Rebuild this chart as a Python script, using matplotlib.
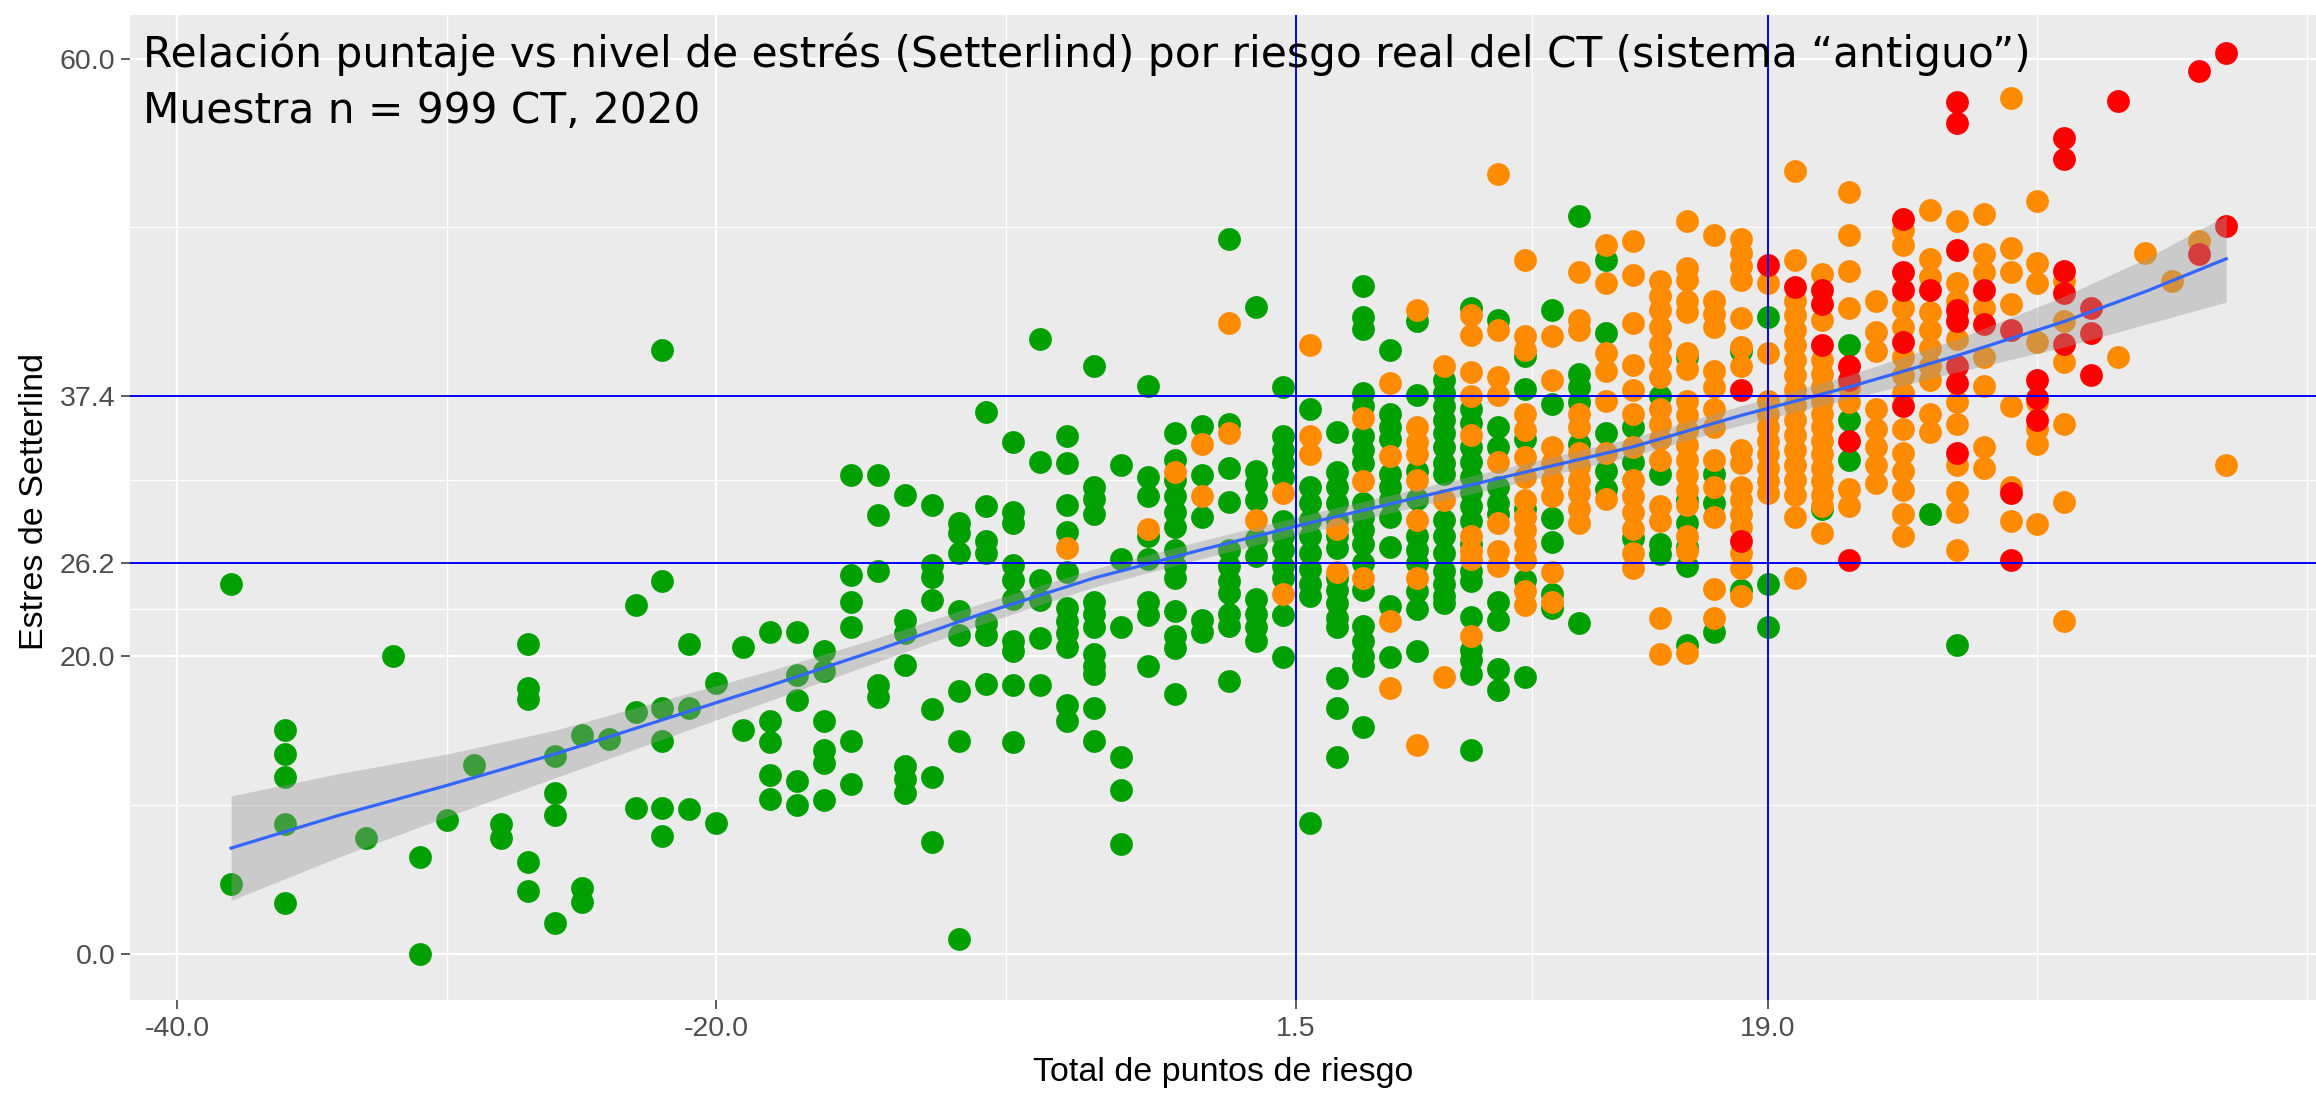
import matplotlib
matplotlib.use("Agg")
import matplotlib.pyplot as plt
import numpy as np

# puntos: (x, [valores y]) por color de riesgo
green_cols = [
    (-38, [24.8, 4.7]),
    (-36, [15.0, 13.4, 11.9, 8.7, 3.4]),
    (-33, [7.8]),
    (-32, [20.0]),
    (-31, [6.5, 0.0]),
    (-30, [9.0]),
    (-29, [12.7]),
    (-28, [8.7, 7.8]),
    (-27, [20.8, 17.8, 17.1, 6.2, 4.2]),
    (-26, [13.3, 10.8, 9.3, 2.1]),
    (-25, [14.7, 4.4, 3.5]),
    (-24, [14.4]),
    (-23, [23.4, 16.2, 9.8]),
    (-22, [40.5, 25.0, 16.5, 14.3, 9.8, 7.9]),
    (-21, [20.8, 16.5, 9.7]),
    (-20, [18.2, 8.8]),
    (-19, [20.6, 15.0]),
    (-18, [21.6, 15.6, 14.2, 12.0, 10.4]),
    (-17, [21.6, 18.7, 17.0, 11.6, 10.0]),
    (-16, [20.3, 19.0, 15.6, 13.7, 12.8, 10.3]),
    (-15, [32.1, 25.4, 23.6, 21.9, 14.3, 11.4]),
    (-14, [32.1, 29.4, 25.7, 18.0, 17.2]),
    (-13, [30.8, 22.4, 21.5, 19.4, 12.6, 11.7, 10.8]),
    (-12, [30.1, 26.1, 25.3, 23.7, 16.4, 11.9, 7.5]),
    (-11, [28.9, 28.2, 26.9, 23.0, 21.4, 17.6, 14.3, 1.0]),
    (-10, [36.3, 30.0, 27.7, 26.9, 22.2, 21.4, 18.1]),
    (-9, [34.3, 29.6, 28.9, 26.1, 25.1, 23.8, 21.0, 20.3, 18.0, 14.2]),
    (-8, [41.2, 33.0, 25.1, 23.7, 21.2, 18.0]),
    (-7, [34.7, 32.9, 30.1, 28.3, 25.6, 23.2, 22.3, 21.5, 20.6, 16.7, 15.6]),
    (-6, [39.4, 31.3, 30.5, 29.5, 23.6, 22.8, 21.9, 20.1, 19.3, 18.8, 16.5, 14.3]),
    (-5, [32.8, 26.5, 21.9, 13.2, 11.0, 7.4]),
    (-4, [38.1, 32.0, 30.7, 28.0, 26.5, 23.6, 22.7, 19.3]),
    (-3, [34.9, 33.1, 31.8, 30.7, 29.6, 28.6, 27.1, 26.0, 25.2, 23.0, 21.3, 20.5, 17.4]),
    (-2, [35.4, 32.1, 29.3, 22.4, 21.6]),
    (-1, [47.9, 35.5, 32.6, 30.3, 27.1, 26.0, 25.0, 24.2, 22.8, 22.0, 18.3]),
    (0, [43.4, 32.4, 31.5, 30.4, 27.8, 26.7, 23.8, 22.8, 21.9, 21.0]),
    (1, [38.0, 34.7, 33.8, 32.9, 32.0, 29.0, 28.0, 27.1, 26.0, 25.2, 22.7, 19.9]),
    (2, [36.5, 31.3, 30.2, 29.1, 28.0, 26.9, 25.8, 24.8, 24.0, 8.8]),
    (3, [35.0, 32.3, 31.3, 30.2, 29.1, 28.0, 27.2, 25.2, 24.4, 23.5, 22.5, 21.9, 18.5, 16.5, 13.2]),
    (4, [44.8, 42.7, 41.9, 37.6, 36.7, 34.7, 33.8, 32.9, 30.2, 29.3, 28.4, 27.5, 26.2, 24.4,
         22.0, 21.0, 20.0, 19.3, 15.2]),
    (5, [40.5, 36.2, 35.3, 34.5, 32.2, 31.3, 30.4, 29.3, 27.3, 23.3, 19.9]),
    (6, [42.4, 37.5, 32.4, 30.5, 28.0, 27.1, 26.2, 24.3, 23.1, 20.3]),
    (7, [38.5, 37.6, 36.7, 35.8, 34.9, 34.0, 32.9, 32.2, 29.1, 28.0, 26.9, 25.7, 24.8, 24.0, 23.5]),
    (8, [43.3, 36.5, 35.6, 34.0, 33.0, 32.0, 31.0, 30.0, 29.0, 27.5, 25.7, 25.0, 22.6, 20.4,
         19.7, 18.8, 13.7]),
    (9, [42.5, 35.3, 34.0, 31.3, 30.2, 29.5, 23.6, 22.4, 19.1, 17.7]),
    (10, [40.1, 37.9, 34.5, 29.8, 25.1, 18.6]),
    (11, [43.2, 36.9, 29.2, 27.6, 24.1, 23.2]),
    (12, [49.5, 38.9, 38.0, 37.0, 34.2, 22.2]),
    (13, [46.5, 41.6, 34.9, 32.4, 31.2]),
    (14, [35.3, 33.0, 27.9]),
    (15, [37.4, 32.2, 27.5, 26.8]),
    (16, [40.0, 30.4, 28.9, 27.3, 26.0, 20.7]),
    (17, [32.2, 30.2, 21.6]),
    (18, [40.4, 24.4]),
    (19, [42.7, 24.8, 21.9]),
    (21, [29.8]),
    (22, [40.8, 35.8, 33.1]),
    (25, [29.5]),
    (26, [20.7]),
]

orange_cols = [
    (-7, [27.2]),
    (-4, [28.5]),
    (-3, [32.3]),
    (-2, [34.2, 30.7]),
    (-1, [42.3, 34.9]),
    (0, [29.1]),
    (1, [30.9, 24.1]),
    (2, [40.8, 34.7, 33.5]),
    (3, [28.5, 25.6]),
    (4, [35.9, 31.7, 25.2]),
    (5, [38.3, 33.4, 22.3, 17.8]),
    (6, [43.2, 35.3, 34.3, 33.5, 31.8, 29.1, 25.2, 14.0]),
    (7, [39.4, 30.4, 18.6]),
    (8, [42.8, 41.5, 39.0, 37.4, 34.8, 28.0, 27.0, 26.5, 21.3]),
    (9, [52.3, 41.8, 38.7, 37.5, 33.0, 28.9, 27.0, 26.0]),
    (10, [46.5, 41.4, 40.5, 36.2, 35.1, 33.3, 32.0, 30.4, 29.3, 28.4, 27.4, 26.4, 24.3, 23.4]),
    (11, [41.4, 38.5, 34.0, 32.9, 31.8, 30.7, 25.6, 23.6]),
    (12, [45.7, 42.5, 41.8, 36.2, 35.3, 33.6, 32.7, 31.8, 30.9, 29.8, 28.9]),
    (13, [47.5, 45.0, 40.3, 39.1, 37.1, 33.6, 30.5]),
    (14, [47.8, 45.5, 42.3, 39.5, 37.8, 36.2, 34.0, 31.8, 30.7, 29.6, 28.5, 26.9, 25.9]),
    (15, [45.1, 44.1, 43.2, 42.0, 40.9, 39.8, 38.7, 36.5, 35.5, 34.5, 33.1, 30.0, 29.0, 22.5, 20.1]),
    (16, [49.1, 46.0, 45.2, 43.8, 43.0, 40.3, 39.2, 37.1, 36.1, 35.1, 34.1, 33.1, 32.1, 31.1,
          30.1, 28.0, 27.0, 20.2]),
    (17, [48.2, 43.8, 42.9, 42.0, 39.1, 38.0, 36.5, 35.3, 33.1, 31.3, 29.3, 24.5, 22.5]),
    (18, [47.9, 47.0, 46.1, 45.2, 42.6, 40.7, 39.4, 33.8, 32.9, 31.3, 30.4, 29.5, 28.6, 26.9,
          25.9, 24.0]),
    (19, [45.0, 40.3, 37.1, 36.2, 35.3, 34.4, 33.5, 32.6, 31.7, 30.9]),
    (20, [52.5, 46.5, 43.8, 42.8, 41.8, 40.8, 39.8, 38.8, 37.8, 36.8, 35.8, 34.8, 33.8, 32.8,
          31.8, 30.8, 29.3, 25.2]),
    (21, [45.6, 42.5, 39.8, 38.9, 38.0, 37.1, 36.2, 35.3, 34.4, 33.5, 32.6, 31.7, 30.8, 30.0, 28.2]),
    (22, [51.1, 48.2, 45.8, 43.3, 38.0, 37.0, 31.2, 30.0]),
    (23, [43.8, 41.7, 40.4, 36.5, 35.2, 34.0, 32.8, 31.6]),
    (24, [48.5, 47.5, 43.3, 42.0, 40.0, 38.8, 37.6, 35.2, 33.6, 32.4, 31.1, 29.5, 28.0]),
    (25, [49.9, 46.6, 45.4, 43.0, 41.8, 40.6, 39.4, 38.5, 36.2, 35.0]),
    (26, [49.1, 45.0, 43.8, 41.2, 37.0, 35.5, 32.8, 31.0, 29.6, 27.1]),
    (27, [49.6, 46.9, 45.7, 43.3, 40.0, 38.1, 34.0, 32.6]),
    (28, [57.4, 47.3, 45.7, 43.6, 36.7, 31.3, 29.0]),
    (29, [50.5, 46.3, 45.0, 41.0, 37.0, 35.2, 34.2, 28.8]),
    (30, [45.1, 42.4, 39.7, 35.5, 30.3, 22.3]),
    (32, [40.0]),
    (33, [47.0]),
    (34, [45.1]),
    (35, [47.8]),
    (36, [32.8]),
]

red_cols = [
    (18, [37.8, 27.7]),
    (19, [46.2]),
    (20, [44.7]),
    (21, [44.5, 43.6, 40.8]),
    (22, [39.4, 38.5, 34.4, 26.4]),
    (24, [49.3, 45.7, 44.5, 41.0, 36.7]),
    (25, [44.5]),
    (26, [57.1, 55.7, 47.2, 43.2, 42.4, 39.4, 38.3, 33.6]),
    (27, [44.5, 42.2]),
    (28, [41.8, 30.9, 26.4]),
    (29, [38.5, 37.3, 35.8]),
    (30, [54.7, 53.3, 45.8, 44.3, 40.9]),
    (31, [43.3, 41.6, 38.8]),
    (32, [57.2]),
    (35, [59.2, 46.9]),
    (36, [60.4, 48.8]),
]

# curva suavizada (loess) y su banda
smooth_x = [-38, -34, -30, -26, -22, -18, -14, -10, -6, -2, 2, 6, 10, 14, 18, 22, 26, 30, 33, 36]
smooth_y = [7.1, 9.3, 11.3, 13.4, 15.7, 18.0, 20.4, 22.9, 25.2, 27.1, 28.9, 30.6, 32.3, 34.0,
            36.1, 38.0, 40.1, 42.4, 44.4, 46.6]
smooth_se = [3.5, 2.8, 2.1, 1.6, 1.3, 1.0, 0.8, 0.7, 0.6, 0.6, 0.6, 0.6, 0.6, 0.6, 0.65, 0.8,
             1.1, 1.7, 2.2, 2.9]

x_breaks = [-40, -20, 1.5, 19]
x_labels = ['-40.0', '-20.0', '1.5', '19.0']
y_breaks = [0, 20, 26.2, 37.4, 60]
y_labels = ['0.0', '20.0', '26.2', '37.4', '60.0']
x_minor = [-30, -9.25, 10.25, 29, 39]
y_minor = [10, 23.1, 31.8, 48.7]
v_lines = [1.5, 19]
h_lines = [26.2, 37.4]

title1 = 'Relación puntaje vs nivel de estrés (Setterlind) por riesgo real del CT (sistema “antiguo”)'
title2 = 'Muestra n = 999 CT, 2020'


def flat(cols):
    xs, ys = [], []
    for x, vals in cols:
        for v in vals:
            xs.append(x)
            ys.append(v)
    return xs, ys


W, H = 2316, 1096
fig = plt.figure(figsize=(W / 100, H / 100), dpi=100)
ax = fig.add_axes([130 / W, 96 / H, 1 - 130 / W, (1000 - 15) / H])
ax.set_facecolor('#EBEBEB')
for s in ax.spines.values():
    s.set_visible(False)

ax.set_xlim(-41.75, 39.33)
ax.set_ylim(-3.08, 62.94)

ax.set_xticks(x_breaks)
ax.set_xticklabels(x_labels)
ax.set_yticks(y_breaks)
ax.set_yticklabels(y_labels)
ax.set_xticks(x_minor, minor=True)
ax.set_yticks(y_minor, minor=True)
ax.set_axisbelow(True)
ax.grid(which='major', color='white', lw=1.6)
ax.grid(which='minor', color='white', lw=0.9)
ax.tick_params(which='major', length=6.5, width=1.1, color='#333333', labelcolor='#4D4D4D',
               labelsize=20.5)
ax.tick_params(which='minor', length=0)
ax.tick_params(axis='x', pad=5)
ax.tick_params(axis='y', pad=4)
for lab in ax.get_xticklabels() + ax.get_yticklabels():
    lab.set_family('Liberation Sans')

gx, gy = flat(green_cols)
ox, oy = flat(orange_cols)
rx, ry = flat(red_cols)
ax.scatter(gx, gy, s=270, color='#00A000', linewidths=0, zorder=2)
ax.scatter(ox, oy, s=270, color='#FF8C00', linewidths=0, zorder=2)
ax.scatter(rx, ry, s=270, color='#FF0000', linewidths=0, zorder=2)

sy = np.array(smooth_y)
se = np.array(smooth_se)
ax.fill_between(smooth_x, sy - se, sy + se, color='#999999', alpha=0.4, lw=0, zorder=3)
ax.plot(smooth_x, smooth_y, color='#3366FF', lw=2.3, zorder=4)

for v in v_lines:
    ax.axvline(v, color='#0000FF', lw=1.4, zorder=5)
for h in h_lines:
    ax.axhline(h, color='#0000FF', lw=1.4, zorder=5)

fig.text((130 + 1093) / W, 1 - 1081 / H, 'Total de puntos de riesgo', ha='center', va='baseline',
         fontsize=24.5, family='Liberation Sans', color='black')
fig.text(50 / W, 1 - 502 / H, 'Estres de Setterlind', rotation=90, ha='right', va='center',
         fontsize=24.5, family='Liberation Sans', color='black')

fig.text(143 / W, 1 - 67 / H, title1, fontsize=30.4, family='DejaVu Sans', va='baseline', zorder=10)
fig.text(143 / W, 1 - 123 / H, title2, fontsize=30.4, family='DejaVu Sans', va='baseline', zorder=10)

fig.savefig('out.png', dpi=100)
